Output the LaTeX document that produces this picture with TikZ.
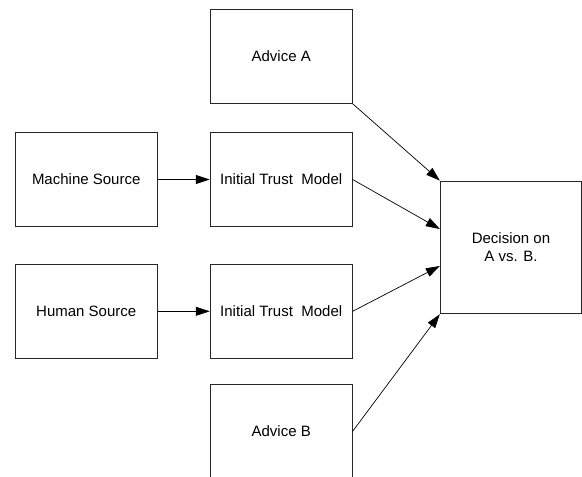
\documentclass[tikz,border=0pt]{standalone}
\usepackage{fontspec}
\setmainfont{Liberation Sans}
\usetikzlibrary{arrows.meta}

\tikzset{
  box/.style={draw=black!85, line width=0.9pt, rectangle, fill=white,
    minimum width=142pt, minimum height=94pt, inner sep=0pt,
    align=center, font=\fontsize{15}{18}\selectfont},
  link/.style={draw=black, line width=0.7pt,
    -{Triangle[length=14pt, width=9pt]}}
}

\begin{document}
\begin{tikzpicture}[x=1pt, y=-1pt]
  \clip (0,0) rectangle (582,477);
  \fill[white] (0,0) rectangle (582,477);

  % sources and their trust models
  \node[box] (adviceA) at (281.2,56.3)  {Advice A};
  \node[box] (machine) at (86.2,179.5)  {Machine Source};
  \node[box] (trustM)  at (281.2,179.5) {Initial Trust\ \ Model};
  \node[box] (human)   at (86.2,311.3)  {Human Source};
  \node[box] (trustH)  at (281.2,311.3) {Initial Trust\ \ Model};
  \node[box] (adviceB) at (281.2,431.3) {Advice B};

  % decision box
  \node[box, minimum width=141.4pt, minimum height=132.7pt]
    (decision) at (511,247.4) {Decision on\\A vs. B.};

  % connectors
  \draw[link] (machine.east) -- (trustM.west);
  \draw[link] (human.east) -- (trustH.west);
  \draw[link] (adviceA.south east) -- (decision.north west);
  \draw[link] (trustM.east) -- ([yshift=18.4pt]decision.west);
  \draw[link] (trustH.east) -- ([yshift=-18.6pt]decision.west);
  \draw[link] (adviceB.east) -- (decision.south west);
\end{tikzpicture}
\end{document}
